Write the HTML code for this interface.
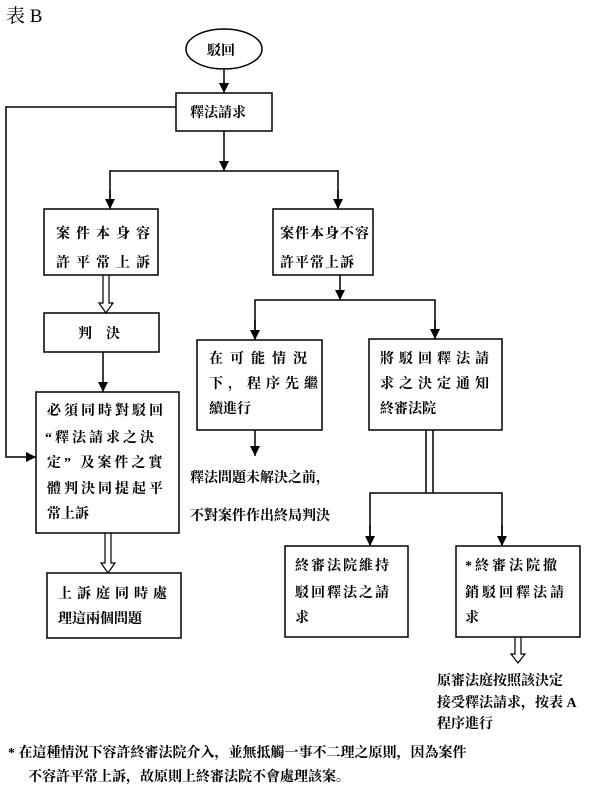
<!DOCTYPE html>
<html><head><meta charset="utf-8"><style>
body{margin:0;background:#fff;}
svg text{font-family:"Liberation Serif","Noto Serif CJK SC","Noto Sans CJK TC",serif;font-weight:bold;fill:#000;}
</style></head><body>
<svg width="600" height="790" viewBox="0 0 600 790" xmlns="http://www.w3.org/2000/svg">
<defs><marker id="a" markerWidth="10" markerHeight="10" refX="10" refY="5" orient="auto" markerUnits="userSpaceOnUse" viewBox="0 0 10 10"><path d="M0,0 L10,5 L0,10 z" fill="#000"/></marker></defs>
<g stroke="#000" stroke-width="1.5" fill="none">
<text x="6" y="22" font-size="19" stroke="none" style="font-weight:normal">表 B</text>
<ellipse cx="224" cy="49" rx="38" ry="20"/>
<line x1="224" y1="69" x2="224" y2="93" marker-end="url(#a)"/>
<rect x="176" y="93" width="96" height="38"/>
<polyline points="176,107 6,107 6,457 36,457" marker-end="url(#a)"/>
<line x1="224" y1="131" x2="224" y2="171" marker-end="url(#a)"/>
<polyline points="110,208 110,171 338,171 338,208"/>
<line x1="110" y1="190" x2="110" y2="209" marker-end="url(#a)"/>
<line x1="338" y1="190" x2="338" y2="209" marker-end="url(#a)"/>
<rect x="44" y="209" width="114" height="66"/>
<rect x="273" y="209" width="100" height="66"/>
<path d="M103,275 V303 H99 L106,313 L113,303 H109 V275" stroke-width="1.2"/>
<rect x="44" y="313" width="115" height="39"/>
<line x1="103" y1="352" x2="103" y2="392" marker-end="url(#a)"/>
<rect x="36" y="392" width="143" height="141"/>
<path d="M105,533 V563 H101 L108,573 L115,563 H111 V533" stroke-width="1.2"/>
<rect x="47" y="573" width="134" height="65"/>
<line x1="340" y1="275" x2="340" y2="300" marker-end="url(#a)"/>
<polyline points="255,339 255,300 435,300 435,339"/>
<line x1="255" y1="320" x2="255" y2="340" marker-end="url(#a)"/>
<line x1="435" y1="320" x2="435" y2="339" marker-end="url(#a)"/>
<rect x="197" y="340" width="125" height="90"/>
<rect x="369" y="339" width="133" height="91"/>
<line x1="255" y1="430" x2="255" y2="456" marker-end="url(#a)"/>
<line x1="426" y1="430" x2="426" y2="493"/>
<line x1="433" y1="430" x2="433" y2="493"/>
<polyline points="370,545 370,493 502,493 502,545"/>
<line x1="370" y1="525" x2="370" y2="546" marker-end="url(#a)"/>
<line x1="502" y1="525" x2="502" y2="546" marker-end="url(#a)"/>
<rect x="285" y="546" width="123" height="91"/>
<rect x="456" y="546" width="124" height="91"/>
<path d="M515,637 V654 H511 L518,663 L525,654 H521 V637" stroke-width="1.2"/>
</g>
<g font-size="14">
<text x="207" y="55">駁回</text>
<text x="190" y="117">釋法請求</text>
<text x="56" y="238" letter-spacing="6">案件本身容</text>
<text x="56" y="267" letter-spacing="6">許平常上訴</text>
<text x="280" y="238" letter-spacing="1">案件本身不容</text>
<text x="280" y="267" letter-spacing="1">許平常上訴</text>
<text x="78" y="338">判　決</text>
<text x="47" y="415" letter-spacing="3">必須同時對駁回</text>
<text x="45" y="442" letter-spacing="3">“釋法請求之決</text>
<text x="47" y="467" letter-spacing="3">定” 及案件之實</text>
<text x="47" y="493" letter-spacing="3">體判決同提起平</text>
<text x="47" y="518">常上訴</text>
<text x="58" y="598" letter-spacing="5">上訴庭同時處</text>
<text x="58" y="623">理這兩個問題</text>
<text x="209" y="363" letter-spacing="7">在可能情況</text>
<text x="209" y="388" letter-spacing="5">下，程序先繼</text>
<text x="209" y="413">續進行</text>
<text x="380" y="363" letter-spacing="5">將駁回釋法請</text>
<text x="380" y="388" letter-spacing="5">求之決定通知</text>
<text x="380" y="413">終審法院</text>
<text x="190" y="482">釋法問題未解決之前，</text>
<text x="190" y="520">不對案件作出終局判決</text>
<text x="295" y="570" letter-spacing="2">終審法院維持</text>
<text x="295" y="597" letter-spacing="2">駁回釋法之請</text>
<text x="295" y="622">求</text>
<text x="465" y="570" letter-spacing="3">*終審法院撤</text>
<text x="465" y="597" letter-spacing="3">銷駁回釋法請</text>
<text x="465" y="622">求</text>
<text x="437" y="685">原審法庭按照該決定</text>
<text x="437" y="707">接受釋法請求，按表 A</text>
<text x="437" y="728">程序進行</text>
<text x="8" y="757">*  在這種情況下容許終審法院介入，並無抵觸一事不二理之原則，因為案件</text>
<text x="28" y="781">不容許平常上訴，故原則上終審法院不會處理該案。</text>
</g>
</svg>
</body></html>
